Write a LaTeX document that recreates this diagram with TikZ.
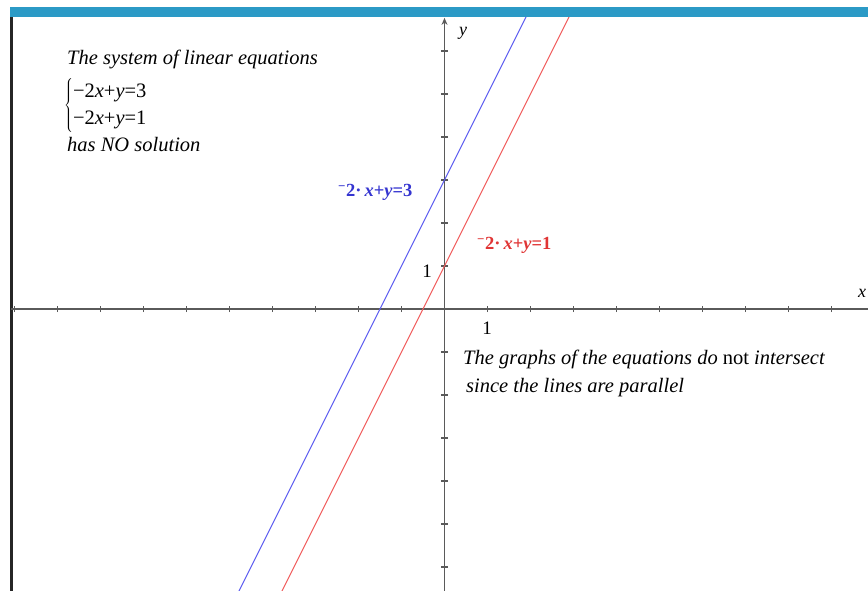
\documentclass[tikz,border=0pt]{standalone}
\usepackage{fontspec}
\setmainfont{Liberation Serif}
\definecolor{graphBlue}{HTML}{5A5AF0}
\definecolor{graphRed}{HTML}{F05A5A}
\definecolor{labelBlue}{HTML}{3535D0}
\definecolor{labelRed}{HTML}{E03535}
\definecolor{barTeal}{HTML}{2B9AC6}
\definecolor{axisGrey}{HTML}{5A5A5A}
\usetikzlibrary{arrows.meta, positioning}
\tikzset{
    axis line/.style={draw=axisGrey, line width=1.3pt},
    tick mark/.style={draw=axisGrey, line width=1.3pt},
    graph line/.style={line width=1.1pt},
    note text/.style={font=\fontsize{20.5}{28}\selectfont\itshape, anchor=base west, inner sep=0pt},
    system text/.style={font=\fontsize{20.5}{27}\selectfont, anchor=west, inner sep=0pt},
    eq label/.style={font=\fontsize{18.5}{20}\selectfont\bfseries, anchor=base west, inner sep=0pt},
    num label/.style={font=\fontsize{19}{20}\selectfont, inner sep=0pt},
}

\begin{document}
\begin{tikzpicture}[x=1pt, y=1pt]
        \useasboundingbox (0,0) rectangle (868,591);

        % Frame
        \fill[barTeal] (10,574) rectangle (868,584);
        \draw[black!85, line width=3pt] (11.5,0) -- (11.5,574);

        % Axes, ticks and lines (one unit = 43pt)
        \begin{scope}[shift={(444.5,282)}, x=43pt, y=43pt]
            \draw[axis line] (-10.07,0) -- (10.2,0);
            \draw[axis line, -{Stealth[length=7pt, width=6pt]}] (0,-6.6) -- (0,6.77);
            \foreach \i in {-10,...,-1,1,2,...,9}
                \draw[tick mark] (\i,-0.07) -- (\i,0.07);
            \foreach \j in {-6,...,-1,1,2,...,6}
                \draw[tick mark] (-0.07,\j) -- (0.07,\j);
            \begin{scope}
                \clip (-10,-6.6) rectangle (10,6.77);
                \draw[graph line, graphBlue] (-5,-7) -- (2,7);
                \draw[graph line, graphRed] (-4,-7) -- (3,7);
            \end{scope}
        \end{scope}

        % Nodes
        \node[num label] (yone) at (427,320) {1};
        \node[num label] (xone) at (487,263) {1};
        \node[num label, font=\fontsize{18}{20}\selectfont\itshape] (ylab) at (463,558) {y};
        \node[num label, font=\fontsize{18}{20}\selectfont\itshape] (xlab) at (862,298) {x};

        \node[note text] (title) at (67,526) {The system of linear equations};
        \node[system text] (system) at (64,485)
            {$\left\{\begin{tabular}{@{}l@{}}−2\textit{x}+\textit{y}=3\\−2\textit{x}+\textit{y}=1\end{tabular}\right.$};
        \node[note text] (nosol) at (67,439) {has NO solution};

        \node[eq label, text=labelBlue] (blueeq) at (338,394)
            {\textsuperscript{−}2·\,\textit{x}+\textit{y}=3};
        \node[eq label, text=labelRed] (redeq) at (477,341)
            {\textsuperscript{−}2·\,\textit{x}+\textit{y}=1};

        \node[note text] (note1) at (463,226)
            {The graphs of the equations do \textup{not} intersect};
        \node[note text] (note2) at (466,198) {since the lines are parallel};
\end{tikzpicture}
\end{document}
